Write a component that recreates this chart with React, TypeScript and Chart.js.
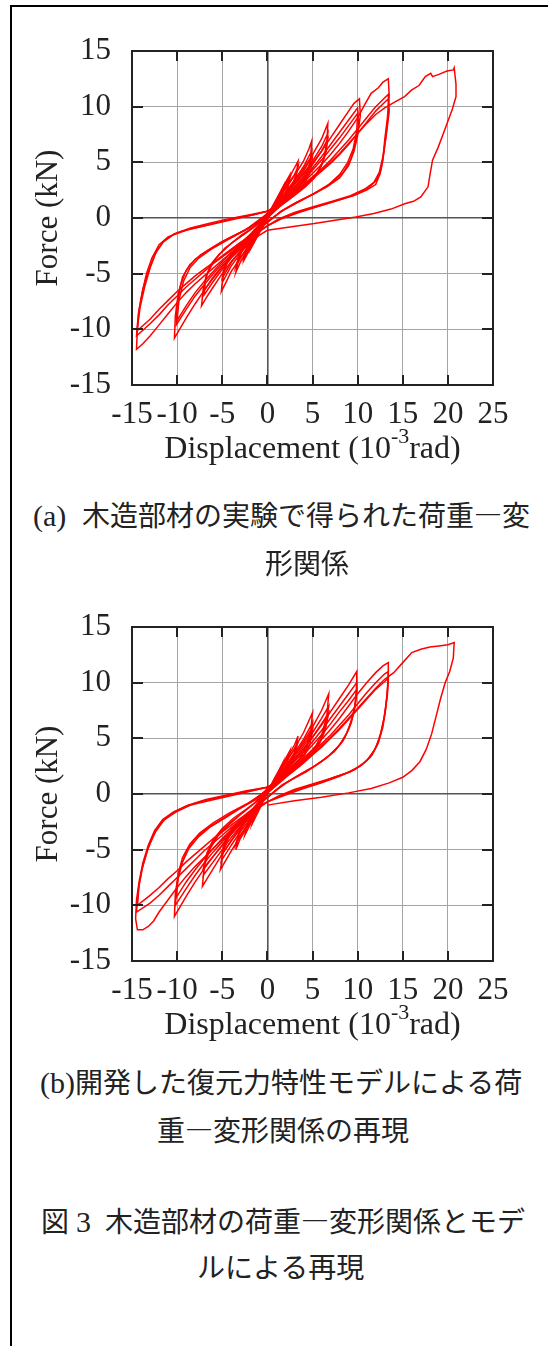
import React, { useEffect, useRef } from 'react';
import { Chart, registerables } from 'chart.js';

Chart.register(...registerables);

type Pt = [number, number];

// ---- axes ----
const xMin = -15;
const xMax = 25;
const yMin = -15;
const yMax = 15;
const tickStep = 5;

const xTitleMain = 'Displacement (10';
const xTitleSup = '-3';
const xTitleEnd = 'rad)';
const yTitle = 'Force (kN)';

// ---- (a) experimental loops (displacement 10^-3 rad, force kN) ----
const testL1: Pt[] = [[0,0],[0.6,1.0],[1.2,1.9],[1.8,2.9],[1.6,2.0],[1.2,1.3],[0.5,0.5],[0,-0.1],[-0.6,-0.9],[-1.2,-1.8],[-1.8,-2.7],[-1.5,-1.8],[-1.0,-1.1],[-0.4,-0.3],[0,0.2],[0.6,1.0],[1.2,1.8],[1.8,2.7],[1.5,1.7],[0.9,0.9],[0,0],[-0.7,-1.0],[-1.3,-1.8],[-1.8,-2.6],[-1.4,-1.6],[-0.8,-0.8],[0,0.2]];
const testL2: Pt[] = [[0,0.2],[0.8,1.4],[1.6,2.6],[2.5,3.9],[2.3,2.8],[1.8,2.0],[1.0,1.1],[0,0],[-0.8,-1.1],[-1.6,-2.3],[-2.6,-3.8],[-2.3,-2.7],[-1.7,-1.8],[-0.8,-0.8],[0,0.3],[0.9,1.4],[1.7,2.5],[2.5,3.6],[2.2,2.5],[1.5,1.6],[0.6,0.6],[0,0],[-0.9,-1.1],[-1.7,-2.2],[-2.6,-3.5],[-2.2,-2.4],[-1.4,-1.4],[-0.5,-0.4],[0,0.3]];
const testL3: Pt[] = [[0,0.3],[1,1.5],[2,2.9],[2.8,4.2],[3.4,5.1],[3.2,3.9],[2.7,2.9],[1.9,2.0],[1.0,1.1],[0,0],[-1,-1.3],[-2,-2.6],[-2.9,-3.8],[-3.5,-4.9],[-3.2,-3.7],[-2.6,-2.6],[-1.7,-1.6],[-0.7,-0.5],[0,0.3],[1,1.4],[2,2.7],[3,3.9],[3.4,4.6],[3.1,3.4],[2.5,2.5],[1.5,1.5],[0,0.1],[-1,-1.2],[-2,-2.4],[-3,-3.6],[-3.5,-4.4],[-3.1,-3.2],[-2.3,-2.1],[-1.2,-1.0],[0,0.3]];
const testL4: Pt[] = [[0,0.3],[1,1.4],[2,2.6],[3,3.8],[4,5.1],[4.6,6.2],[4.9,6.9],[4.8,5.4],[4.4,4.0],[3.7,3.0],[2.7,2.2],[1.4,1.2],[0,0.1],[-1,-1.2],[-2,-2.4],[-3,-3.6],[-4,-4.8],[-4.6,-5.8],[-5.1,-6.6],[-4.9,-5.1],[-4.4,-3.9],[-3.5,-2.9],[-2.3,-1.9],[-1.1,-0.8],[0,0.4],[1,1.3],[2,2.3],[3,3.4],[4,4.6],[4.9,6.0],[4.7,4.6],[4.2,3.4],[3.3,2.6],[2.1,1.8],[1,0.9],[0,0],[-1,-1.1],[-2,-2.2],[-3,-3.2],[-4,-4.3],[-5,-5.8],[-4.8,-4.6],[-4.1,-3.4],[-3.1,-2.5],[-2,-1.6],[-0.9,-0.6],[0,0.4]];
const testL4c: Pt[] = [[0,0.4],[1,1.2],[2,2.1],[3,3.1],[4,4.2],[5,5.6],[4.8,4.2],[4.1,3.1],[3.1,2.3],[1.9,1.5],[0.8,0.7],[0,0],[-1,-1.0],[-2,-2.0],[-3,-3.0],[-4,-4.0],[-5,-5.4],[-4.7,-4.2],[-3.9,-3.1],[-2.9,-2.2],[-1.8,-1.4],[-0.7,-0.4],[0,0.4]];
const testL5: Pt[] = [[0,0.4],[1,1.3],[2,2.3],[3,3.3],[4,4.4],[5,5.7],[6,7.1],[6.7,8.5],[6.6,6.8],[6.2,5.2],[5.5,4.0],[4.6,3.1],[3.2,2.2],[1.6,1.3],[0,0.1],[-1,-1.0],[-2,-2.0],[-3,-3.0],[-4,-3.9],[-5,-5.0],[-6,-6.2],[-6.8,-7.2],[-7.3,-7.9],[-7.1,-6.3],[-6.6,-4.9],[-5.8,-3.7],[-4.7,-2.7],[-3.2,-1.8],[-1.6,-0.9],[0,0.4],[1,1.2],[2,2.1],[3,3.0],[4,4.0],[5,5.1],[6,6.4],[6.7,7.6],[6.5,6.0],[6.0,4.7],[5.2,3.6],[4.2,2.8],[2.8,1.9],[1.3,1.0],[0,0],[-1,-0.9],[-2,-1.8],[-3,-2.8],[-4,-3.6],[-5,-4.6],[-6,-5.7],[-7,-6.9],[-6.9,-5.6],[-6.3,-4.3],[-5.4,-3.3],[-4.2,-2.4],[-2.8,-1.5],[-1.3,-0.7],[0,0.4]];
const testL5c: Pt[] = [[0,0.4],[1,1.1],[2,2.0],[3,2.8],[4,3.7],[5,4.8],[6,6.0],[6.7,7.1],[6.4,5.6],[5.8,4.4],[4.9,3.4],[3.8,2.6],[2.4,1.7],[1.0,0.8],[0,0],[-1,-0.9],[-2,-1.7],[-3,-2.6],[-4,-3.4],[-5,-4.3],[-6,-5.3],[-7,-6.5],[-6.8,-5.2],[-6.1,-4.0],[-5.1,-3.1],[-3.9,-2.2],[-2.5,-1.4],[-1.0,-0.5],[0,0.4]];
const testL6a: Pt[] = [[0,0.4],[1,1.2],[2,2.1],[3,3.0],[4,3.9],[5,4.9],[6,6.0],[7,7.2],[8,8.4],[9,9.6],[9.6,10.3],[10.2,10.7],[10.3,9.2],[10.0,7.4],[9.6,6.0],[9.0,4.7],[8.0,3.6],[6.6,2.8],[5.0,2.1],[3.0,1.3],[1.5,0.6],[0,-0.4],[-1,-1.1],[-2,-1.9],[-3,-2.7],[-4,-3.5],[-5,-4.4],[-6,-5.4],[-7,-6.5],[-8,-7.7],[-9,-9.0],[-9.8,-10.1],[-10.3,-10.8],[-10.2,-8.8],[-9.9,-6.9],[-9.4,-5.3],[-8.6,-4.2],[-7.4,-3.3],[-5.8,-2.5],[-4.0,-1.7],[-2.0,-0.9],[0,0.3]];
const testL6b: Pt[] = [[0,0.3],[1,1.1],[2,1.9],[3,2.7],[4,3.6],[5,4.5],[6,5.5],[7,6.6],[8,7.7],[9,8.8],[10,9.9],[10.1,8.3],[9.7,6.6],[9.2,5.2],[8.4,4.1],[7.2,3.2],[5.6,2.4],[3.6,1.5],[1.8,0.7],[0,-0.3],[-1,-1.0],[-2,-1.8],[-3,-2.5],[-4,-3.3],[-5,-4.1],[-6,-5.0],[-7,-6.0],[-8,-7.0],[-9,-8.2],[-10.1,-9.6],[-10.0,-7.8],[-9.6,-6.0],[-9.0,-4.7],[-8.0,-3.7],[-6.6,-2.9],[-5.0,-2.1],[-3.0,-1.3],[-1.2,-0.5],[0,0.4]];
const testL6c: Pt[] = [[0,0.4],[1,1.0],[2,1.8],[3,2.6],[4,3.4],[5,4.3],[6,5.2],[7,6.2],[8,7.2],[9,8.3],[10,9.4],[9.9,7.8],[9.5,6.2],[8.9,5.0],[8.0,3.9],[6.8,3.0],[5.2,2.2],[3.2,1.4],[1.5,0.6],[0,-0.4],[-1,-1.0],[-2,-1.7],[-3,-2.4],[-4,-3.1],[-5,-3.9],[-6,-4.8],[-7,-5.7],[-8,-6.7],[-9,-7.9],[-10,-9.2],[-9.8,-7.4],[-9.3,-5.7],[-8.6,-4.5],[-7.6,-3.6],[-6.2,-2.8],[-4.5,-2.0],[-2.5,-1.1],[0,0.4]];
const testL7a: Pt[] = [[0,0.5],[1,1.1],[2,1.8],[3,2.5],[4,3.2],[5,4.0],[6,4.8],[7,5.7],[8,6.7],[9,7.8],[10,9.0],[10.8,10.2],[11.5,11.2],[12.3,11.7],[12.8,12.2],[13.4,12.5],[13.5,11.0],[13.3,9.0],[13.0,7.0],[12.8,5.2],[12.5,4.0],[12.0,3.0],[11.0,2.5],[9.5,2.0],[7.5,1.5],[5.5,1.0],[3.5,0.5],[1.5,-0.1],[0,-0.7],[-1,-1.3],[-2,-1.9],[-3,-2.5],[-4,-3.1],[-5,-3.8],[-6,-4.5],[-7,-5.2],[-8,-5.9],[-9,-6.7],[-10,-7.6],[-11,-8.6],[-12,-9.6],[-13,-10.6],[-13.8,-11.3],[-14.5,-11.8],[-14.4,-9.8],[-14.1,-8.0],[-13.6,-6.2],[-13.0,-4.5],[-12.3,-3.0],[-11.4,-2.0],[-10.3,-1.4],[-8.5,-0.9],[-6.5,-0.5],[-4.5,-0.1],[-2.5,0.2],[0,0.6]];
const testL7b: Pt[] = [[0,0.6],[1,1.1],[2,1.7],[3,2.3],[4,3.0],[5,3.7],[6,4.4],[7,5.2],[8,6.1],[9,7.0],[10,8.0],[11,9.0],[12,10.0],[13,10.8],[13.4,11.1],[13.5,9.6],[13.2,7.6],[12.9,5.8],[12.6,4.4],[12.1,3.4],[11.2,2.7],[9.8,2.1],[7.8,1.6],[5.8,1.1],[3.6,0.6],[1.6,0],[0,-0.7],[-1,-1.2],[-2,-1.8],[-3,-2.3],[-4,-2.9],[-5,-3.5],[-6,-4.1],[-7,-4.8],[-8,-5.5],[-9,-6.2],[-10,-7.0],[-11,-7.8],[-12,-8.7],[-13,-9.5],[-14.5,-10.6],[-14.3,-8.6],[-13.9,-6.8],[-13.4,-5.0],[-12.8,-3.6],[-12.0,-2.4],[-11.0,-1.7],[-9.5,-1.2],[-7.5,-0.8],[-5.5,-0.4],[-3.5,0],[-1.5,0.3],[0,0.6]];
const testL7c: Pt[] = [[0,0.6],[1,1.0],[2,1.6],[3,2.2],[4,2.8],[5,3.5],[6,4.2],[7,4.9],[8,5.7],[9,6.6],[10,7.6],[11,8.6],[12,9.6],[13,10.4],[13.4,10.7],[13.4,9.2],[13.1,7.2],[12.8,5.5],[12.4,4.1],[11.8,3.2],[10.8,2.6],[9.2,2.0],[7.2,1.5],[5.0,1.0],[3.0,0.5],[1.2,-0.1],[0,-0.7],[-1,-1.2],[-2,-1.7],[-3,-2.2],[-4,-2.8],[-5,-3.4],[-6,-4.0],[-7,-4.6],[-8,-5.2],[-9,-5.9],[-10,-6.6],[-11,-7.4],[-12,-8.2],[-13,-9.1],[-14.4,-10.1],[-14.2,-8.2],[-13.8,-6.4],[-13.2,-4.8],[-12.5,-3.3],[-11.6,-2.2],[-10.4,-1.5],[-8.6,-1.0],[-6.4,-0.6],[-4.2,-0.2],[-2.0,0.2],[0,0.6]];
const testFinal: Pt[] = [[0,0.6],[1,1.1],[2,1.7],[3,2.3],[4,2.9],[5,3.6],[6,4.3],[7,5.0],[8,5.8],[9,6.7],[10,7.6],[11,8.5],[12,9.3],[13,9.9],[14.1,10.4],[15.2,10.9],[16.0,11.5],[16.8,11.9],[17.5,12.7],[18.1,13.0],[18.3,12.7],[19.0,12.9],[19.9,13.2],[20.6,13.3],[20.7,13.5],[20.9,12.0],[20.9,10.9],[20.5,9.8],[20.0,8.7],[19.5,7.6],[18.9,6.3],[18.3,5.2],[18.0,3.8],[17.8,2.8],[17.0,1.9],[16.2,1.5],[15.3,1.3],[13.7,0.8],[11.8,0.4],[9.8,0.1],[7.5,-0.2],[5.2,-0.5],[2.5,-0.8],[0,-1.1],[-1,-1.6],[-2,-2.3],[-3,-3.0]];

// ---- (b) restoring-force model loops ----
const modelL1: Pt[] = [[0,0],[0.6,1.1],[1.2,2.0],[1.7,2.8],[1.4,1.9],[0.9,1.1],[0,0.1],[-0.6,-0.9],[-1.2,-1.9],[-1.7,-2.7],[-1.4,-1.8],[-0.8,-0.9],[0,0.1]];
const modelL2: Pt[] = [[0,0.1],[0.8,1.4],[1.7,2.7],[2.5,3.9],[2.2,2.8],[1.5,1.8],[0.6,0.8],[0,0.1],[-0.8,-1.1],[-1.7,-2.4],[-2.5,-3.7],[-2.2,-2.6],[-1.5,-1.6],[-0.6,-0.5],[0,0.2]];
const modelL3: Pt[] = [[0,0.2],[1,1.6],[2,3.0],[3,4.4],[3.4,5.2],[3.1,3.9],[2.5,2.8],[1.6,1.8],[0.6,0.8],[0,0.1],[-1,-1.3],[-2,-2.7],[-3,-4.0],[-3.5,-5.0],[-3.2,-3.7],[-2.5,-2.5],[-1.5,-1.3],[-0.5,-0.3],[0,0.3],[1,1.5],[2,2.8],[3,4.0],[3.4,4.7],[3.0,3.4],[2.3,2.4],[1.3,1.4],[0,0.1],[-1,-1.2],[-2,-2.5],[-3,-3.7],[-3.5,-4.5],[-3.1,-3.3],[-2.2,-2.0],[-1.0,-0.8],[0,0.3]];
const modelL4: Pt[] = [[0,0.3],[1,1.5],[2,2.8],[3,4.1],[4,5.5],[5,7.3],[4.8,5.6],[4.3,4.2],[3.5,3.1],[2.4,2.1],[1.2,1.1],[0,0.1],[-1,-1.2],[-2,-2.5],[-3,-3.8],[-4,-5.1],[-5.2,-6.8],[-4.9,-5.2],[-4.3,-3.9],[-3.3,-2.8],[-2.1,-1.8],[-0.9,-0.7],[0,0.4],[1,1.4],[2,2.5],[3,3.7],[4,4.9],[5,6.4],[4.7,4.9],[4.1,3.6],[3.2,2.7],[2,1.8],[0.9,0.9],[0,0.1],[-1,-1.1],[-2,-2.3],[-3,-3.4],[-4,-4.6],[-5.1,-6.0],[-4.8,-4.6],[-4.1,-3.4],[-3,-2.4],[-1.8,-1.5],[-0.7,-0.5],[0,0.4]];
const modelL4c: Pt[] = [[0,0.4],[1,1.3],[2,2.3],[3,3.4],[4,4.5],[5,5.8],[4.7,4.4],[4.0,3.3],[3.0,2.4],[1.8,1.5],[0.7,0.6],[0,0.1],[-1,-1.0],[-2,-2.1],[-3,-3.1],[-4,-4.2],[-5.1,-5.5],[-4.7,-4.2],[-3.9,-3.1],[-2.8,-2.1],[-1.6,-1.3],[-0.6,-0.4],[0,0.4]];
const modelL5: Pt[] = [[0,0.4],[1,1.4],[2,2.4],[3,3.5],[4,4.7],[5,6.0],[6,7.5],[6.8,9.0],[6.6,7.1],[6.1,5.5],[5.3,4.2],[4.2,3.2],[2.8,2.2],[1.3,1.1],[0,0.1],[-1,-1.0],[-2,-2.1],[-3,-3.1],[-4,-4.2],[-5,-5.4],[-6,-6.7],[-7.2,-8.3],[-7.0,-6.5],[-6.4,-5.0],[-5.5,-3.8],[-4.3,-2.8],[-2.9,-1.8],[-1.4,-0.8],[0,0.5],[1,1.3],[2,2.2],[3,3.2],[4,4.3],[5,5.5],[6,6.8],[6.8,7.9],[6.5,6.2],[5.9,4.8],[5.0,3.7],[3.9,2.8],[2.5,1.9],[1.1,0.9],[0,0.1],[-1,-0.9],[-2,-1.9],[-3,-2.9],[-4,-3.9],[-5,-5.0],[-6,-6.1],[-7.1,-7.3],[-6.8,-5.8],[-6.2,-4.5],[-5.2,-3.4],[-4.0,-2.5],[-2.6,-1.6],[-1.1,-0.6],[0,0.5]];
const modelL5c: Pt[] = [[0,0.5],[1,1.2],[2,2.1],[3,3.0],[4,4.0],[5,5.1],[6,6.3],[6.8,7.3],[6.4,5.7],[5.7,4.4],[4.8,3.4],[3.6,2.5],[2.2,1.6],[0.9,0.7],[0,0.1],[-1,-0.9],[-2,-1.8],[-3,-2.7],[-4,-3.6],[-5,-4.6],[-6,-5.6],[-7.1,-6.7],[-6.7,-5.3],[-6.0,-4.1],[-5.0,-3.1],[-3.8,-2.2],[-2.4,-1.4],[-0.9,-0.5],[0,0.5]];
const modelL6a: Pt[] = [[0,0.5],[1,1.3],[2,2.2],[3,3.1],[4,4.1],[5,5.1],[6,6.2],[7,7.4],[8,8.6],[9,9.8],[9.9,11.0],[9.9,9.2],[9.6,7.5],[9.1,6.0],[8.4,4.8],[7.4,3.8],[6.0,2.9],[4.3,2.0],[2.5,1.2],[1.0,0.4],[0,-0.3],[-1,-1.0],[-2,-1.9],[-3,-2.7],[-4,-3.6],[-5,-4.6],[-6,-5.6],[-7,-6.7],[-8,-7.9],[-9,-9.2],[-10.3,-11.0],[-10.2,-9.0],[-9.9,-7.2],[-9.4,-5.7],[-8.6,-4.5],[-7.5,-3.5],[-6.0,-2.6],[-4.2,-1.7],[-2.3,-0.9],[-0.8,-0.1],[0,0.4]];
const modelL6b: Pt[] = [[0,0.4],[1,1.2],[2,2.0],[3,2.9],[4,3.8],[5,4.7],[6,5.7],[7,6.8],[8,7.9],[9,9.0],[9.9,10.0],[9.8,8.3],[9.4,6.8],[8.8,5.5],[8.0,4.4],[6.9,3.5],[5.4,2.6],[3.7,1.8],[1.9,0.9],[0,-0.3],[-1,-1.0],[-2,-1.8],[-3,-2.6],[-4,-3.4],[-5,-4.3],[-6,-5.2],[-7,-6.2],[-8,-7.3],[-9,-8.5],[-10.2,-10.0],[-10.0,-8.1],[-9.6,-6.5],[-9.0,-5.2],[-8.1,-4.1],[-6.9,-3.2],[-5.3,-2.4],[-3.5,-1.5],[-1.6,-0.6],[0,0.4]];
const modelL6c: Pt[] = [[0,0.4],[1,1.1],[2,1.9],[3,2.7],[4,3.5],[5,4.4],[6,5.3],[7,6.3],[8,7.4],[9,8.4],[9.9,9.4],[9.7,7.8],[9.3,6.4],[8.6,5.1],[7.7,4.1],[6.5,3.2],[5.0,2.4],[3.3,1.6],[1.6,0.8],[0,-0.3],[-1,-0.9],[-2,-1.7],[-3,-2.4],[-4,-3.2],[-5,-4.0],[-6,-4.9],[-7,-5.8],[-8,-6.8],[-9,-7.9],[-10.1,-9.3],[-9.9,-7.6],[-9.4,-6.1],[-8.7,-4.9],[-7.7,-3.9],[-6.4,-3.0],[-4.8,-2.2],[-3.0,-1.3],[-1.3,-0.5],[0,0.4]];
const modelL7a: Pt[] = [[0,0.4],[1,1.0],[2,1.7],[3,2.4],[4,3.2],[5,4.0],[6,4.9],[7,5.8],[8,6.8],[9,7.9],[10,9.0],[11,10.0],[12,10.9],[12.8,11.5],[13.4,11.8],[13.4,10.2],[13.2,8.4],[12.9,6.7],[12.5,5.2],[11.9,4.0],[11.0,3.0],[9.7,2.2],[8.0,1.6],[6.0,1.0],[4.0,0.5],[2.0,-0.1],[0,-0.7],[-1,-1.3],[-2,-2.0],[-3,-2.7],[-4,-3.4],[-5,-4.1],[-6,-4.9],[-7,-5.7],[-8,-6.5],[-9,-7.4],[-10,-8.4],[-11,-9.5],[-12,-10.6],[-12.6,-11.4],[-13.2,-11.9],[-13.8,-12.2],[-14.4,-12.2],[-14.6,-11.2],[-14.5,-9.5],[-14.2,-7.8],[-13.8,-6.2],[-13.2,-4.6],[-12.5,-3.3],[-11.6,-2.3],[-10.4,-1.6],[-8.8,-1.0],[-6.8,-0.5],[-4.6,-0.1],[-2.3,0.3],[0,0.6]];
const modelL7b: Pt[] = [[0,0.6],[1,1.1],[2,1.7],[3,2.3],[4,3.0],[5,3.7],[6,4.5],[7,5.3],[8,6.2],[9,7.1],[10,8.1],[11,9.1],[12,10.0],[13,10.8],[13.4,11.0],[13.3,9.4],[13.1,7.6],[12.8,6.0],[12.3,4.6],[11.6,3.5],[10.6,2.7],[9.2,2.0],[7.4,1.5],[5.4,0.9],[3.3,0.4],[1.4,-0.2],[0,-0.7],[-1,-1.2],[-2,-1.8],[-3,-2.4],[-4,-3.0],[-5,-3.7],[-6,-4.4],[-7,-5.1],[-8,-5.9],[-9,-6.7],[-10,-7.5],[-11,-8.3],[-12,-9.1],[-13,-9.8],[-14.5,-10.6],[-14.3,-8.6],[-13.9,-6.8],[-13.3,-5.1],[-12.6,-3.6],[-11.7,-2.5],[-10.5,-1.7],[-9.0,-1.1],[-7.0,-0.6],[-4.8,-0.2],[-2.5,0.2],[0,0.6]];
const modelL7c: Pt[] = [[0,0.6],[1,1.0],[2,1.6],[3,2.2],[4,2.8],[5,3.5],[6,4.2],[7,5.0],[8,5.8],[9,6.7],[10,7.6],[11,8.5],[12,9.4],[13,10.1],[13.4,10.4],[13.3,8.9],[13.0,7.1],[12.6,5.6],[12.1,4.3],[11.4,3.3],[10.3,2.5],[8.8,1.9],[7.0,1.4],[5.0,0.9],[3.0,0.4],[1.2,-0.2],[0,-0.7],[-1,-1.1],[-2,-1.7],[-3,-2.2],[-4,-2.8],[-5,-3.4],[-6,-4.0],[-7,-4.7],[-8,-5.4],[-9,-6.1],[-10,-6.9],[-11,-7.6],[-12,-8.4],[-13,-9.1],[-14.4,-10.0],[-14.2,-8.1],[-13.8,-6.4],[-13.2,-4.8],[-12.4,-3.4],[-11.4,-2.3],[-10.1,-1.6],[-8.5,-1.0],[-6.5,-0.6],[-4.3,-0.2],[-2.1,0.2],[0,0.6]];
const modelFinal: Pt[] = [[0,0.6],[1,1.1],[2,1.7],[3,2.3],[4,2.9],[5,3.6],[6,4.3],[7,5.1],[8,5.9],[9,6.8],[10,7.7],[11,8.6],[12,9.5],[13,10.3],[14,10.9],[15,11.8],[16,12.7],[17,13.0],[18,13.2],[19,13.3],[20,13.4],[20.7,13.6],[20.6,12.2],[20.2,11.0],[19.7,10.0],[19.2,8.6],[18.7,7.0],[18.2,5.4],[17.6,4.0],[16.9,2.9],[16.0,2.1],[15.0,1.5],[13.5,1.0],[11.5,0.5],[9.0,0.1],[6.0,-0.3],[3.0,-0.6],[0,-1.0]];

const testLoops: Pt[][] = [testL1, testL2, testL3, testL4, testL4c, testL5, testL5c, testL6a, testL6b, testL6c, testL7a, testL7b, testL7c, testFinal];
const modelLoops: Pt[][] = [modelL1, modelL2, modelL3, modelL4, modelL4c, modelL5, modelL5c, modelL6a, modelL6b, modelL6c, modelL7a, modelL7b, modelL7c, modelFinal];

const SERIF = '"Liberation Serif", "Times New Roman", serif';
const JP = '"Noto Sans CJK JP", sans-serif';

const framePlugin = {
  id: 'gnuFrame',
  afterDraw(chart: any) {
    const { ctx, chartArea: a, scales } = chart;
    const xs = scales.x;
    const ys = scales.y;
    ctx.save();
    ctx.strokeStyle = '#222';
    ctx.lineWidth = 2;
    ctx.beginPath();
    xs.ticks.forEach((t: any) => {
      const px = Math.round(xs.getPixelForValue(t.value));
      ctx.moveTo(px, a.bottom);
      ctx.lineTo(px, a.bottom - 10);
      ctx.moveTo(px, a.top);
      ctx.lineTo(px, a.top + 10);
    });
    ys.ticks.forEach((t: any) => {
      const py = Math.round(ys.getPixelForValue(t.value));
      ctx.moveTo(a.left, py);
      ctx.lineTo(a.left + 11, py);
      ctx.moveTo(a.right, py);
      ctx.lineTo(a.right - 11, py);
    });
    ctx.stroke();
    ctx.strokeRect(a.left, a.top, a.right - a.left, a.bottom - a.top);

    // x-axis title with superscript
    ctx.fillStyle = '#222';
    ctx.textBaseline = 'middle';
    ctx.textAlign = 'left';
    ctx.font = `32px ${SERIF}`;
    const w1 = ctx.measureText(xTitleMain).width;
    const w3 = ctx.measureText(xTitleEnd).width;
    ctx.font = `22px ${SERIF}`;
    const w2 = ctx.measureText(xTitleSup).width;
    const total = w1 + w2 + w3;
    const cx = (a.left + a.right) / 2;
    const y = a.bottom + 65;
    let x = cx - total / 2;
    ctx.font = `32px ${SERIF}`;
    ctx.fillText(xTitleMain, x, y);
    x += w1;
    ctx.font = `22px ${SERIF}`;
    ctx.fillText(xTitleSup, x, y - 13);
    x += w2;
    ctx.font = `32px ${SERIF}`;
    ctx.fillText(xTitleEnd, x, y);
    ctx.restore();
  },
};

function HysteresisChart({ top, loops }: { top: number; loops: Pt[][] }) {
  const ref = useRef<HTMLCanvasElement>(null);
  useEffect(() => {
    if (!ref.current) return;
    const gridColor = (c: any) => (c.tick && c.tick.value === 0 ? '#555' : '#a4a4a4');
    const gridWidth = (c: any) => (c.tick && c.tick.value === 0 ? 1.6 : 1);
    const chart = new Chart(ref.current, {
      type: 'scatter',
      data: {
        datasets: loops.map((loop, i) => ({
          label: `loop ${i + 1}`,
          data: loop.map(([x, y]) => ({ x, y })),
          showLine: true,
          borderColor: 'rgb(255,0,0)',
          backgroundColor: 'rgb(255,0,0)',
          borderWidth: 1.5,
          pointRadius: 0,
          pointHoverRadius: 0,
          tension: 0,
          fill: false,
        })),
      },
      options: {
        animation: false,
        responsive: false,
        events: [],
        layout: { padding: { left: 0, top: 51, right: 55, bottom: 0 } },
        plugins: { legend: { display: false }, tooltip: { enabled: false } },
        scales: {
          x: {
            type: 'linear',
            min: xMin,
            max: xMax,
            afterFit: (s: any) => { s.height = 95; },
            ticks: {
              stepSize: tickStep,
              autoSkip: false,
              maxRotation: 0,
              padding: 11,
              color: '#222',
              font: { family: SERIF, size: 31 },
            },
            grid: { color: gridColor, lineWidth: gridWidth, drawTicks: false },
            border: { display: false },
          },
          y: {
            type: 'linear',
            min: yMin,
            max: yMax,
            afterFit: (s: any) => { s.width = 132; },
            ticks: {
              stepSize: tickStep,
              autoSkip: false,
              padding: 21,
              color: '#222',
              font: { family: SERIF, size: 31 },
            },
            title: {
              display: true,
              text: yTitle,
              color: '#222',
              font: { family: SERIF, size: 31 },
              padding: { top: 30, bottom: 0 },
            },
            grid: { color: gridColor, lineWidth: gridWidth, drawTicks: false },
            border: { display: false },
          },
        },
      } as any,
      plugins: [framePlugin],
    });
    return () => chart.destroy();
  }, [loops]);
  return (
    <canvas
      ref={ref}
      width={548}
      height={480}
      style={{ position: 'absolute', left: 0, top, width: 548, height: 480 }}
    />
  );
}

function Line({ left, cy, children }: { left: number; cy: number; children: React.ReactNode }) {
  return (
    <div
      style={{
        position: 'absolute',
        left,
        top: cy - 24,
        height: 48,
        lineHeight: '48px',
        fontSize: 28,
        whiteSpace: 'nowrap',
        color: '#222',
        fontFamily: JP,
      }}
    >
      {children}
    </div>
  );
}

const latin: React.CSSProperties = { fontFamily: SERIF, fontSize: 30 };

export default function App() {
  return (
    <div style={{ position: 'absolute', left: 0, top: 0, width: 548, height: 1346, background: '#fff', overflow: 'hidden' }}>
      <div style={{ position: 'absolute', left: 10, top: 5, width: 700, height: 1500, borderLeft: '2px solid #000', borderTop: '2px solid #000' }} />
      <HysteresisChart top={0} loops={testLoops} />
      <HysteresisChart top={576} loops={modelLoops} />

      <Line left={33} cy={514}><span style={latin}>(a)</span></Line>
      <Line left={82} cy={514}>木造部材の実験で得られた荷重―変</Line>
      <Line left={265} cy={562}>形関係</Line>

      <Line left={40} cy={1081}><span style={latin}>(b)</span></Line>
      <Line left={75} cy={1081}>開発した復元力特性モデルによる荷</Line>
      <Line left={157} cy={1129}>重―変形関係の再現</Line>

      <Line left={41} cy={1220}>図</Line>
      <Line left={76} cy={1220}><span style={latin}>3</span></Line>
      <Line left={105} cy={1220}>木造部材の荷重―変形関係とモデ</Line>
      <Line left={197} cy={1266}>ルによる再現</Line>
    </div>
  );
}
